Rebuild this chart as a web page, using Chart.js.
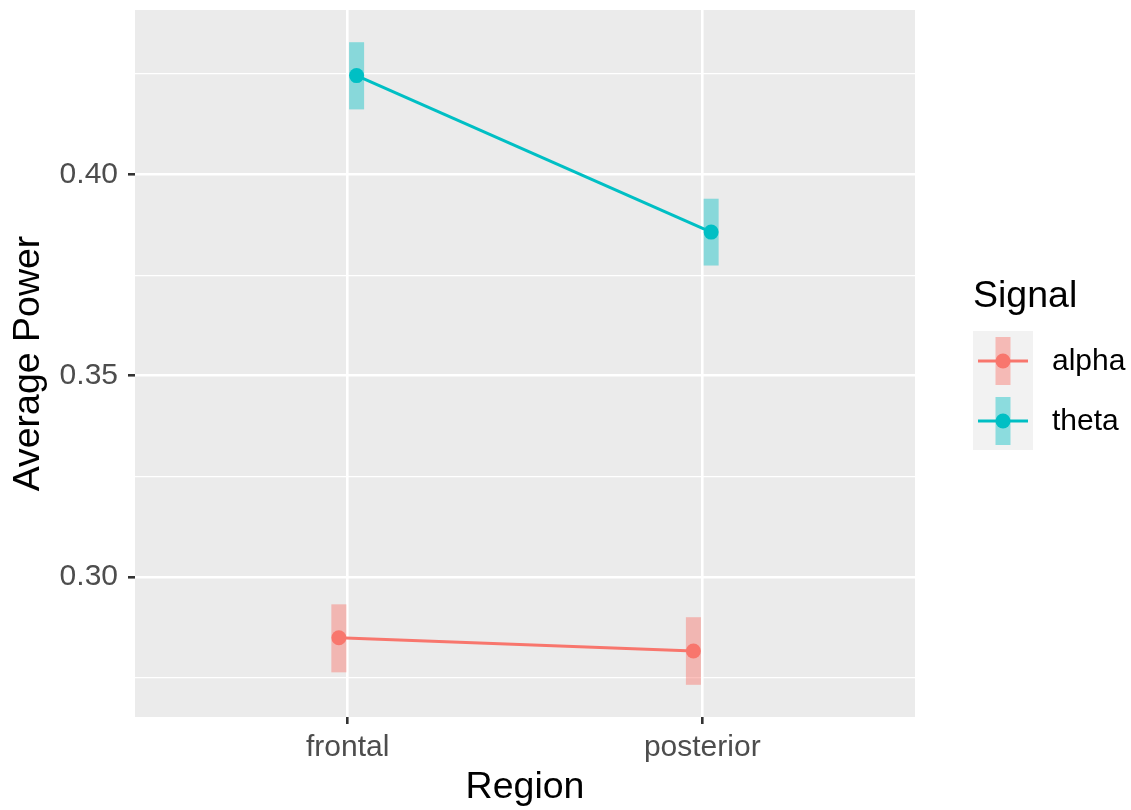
<!DOCTYPE html>
<html>
<head>
<meta charset="utf-8">
<script src="https://cdn.jsdelivr.net/npm/chart.js@4"></script>
<style>
  body { margin: 0; background: #fff; }
  canvas { display: block; }
</style>
</head>
<body>
<canvas id="grafico" width="1131" height="810"></canvas>
<script>
// dados
const regioes = ['frontal', 'posterior'];
const sinais = ['alpha', 'theta'];
const alphaMedia = [0.2849, 0.2816];
const alphaInf = [0.2763, 0.2732];
const alphaSup = [0.2932, 0.2900];
const thetaMedia = [0.4246, 0.3857];
const thetaInf = [0.4162, 0.3774];
const thetaSup = [0.4329, 0.3940];
const ticksY = [0.275, 0.30, 0.325, 0.35, 0.375, 0.40, 0.425];
const ticksYMaiores = [0.30, 0.35, 0.40];

const cores = { alpha: '#F8766D', theta: '#00BFC4' };
const coresBarra = { alpha: 'rgba(248,118,109,0.45)', theta: 'rgba(0,191,196,0.42)' };
const desvio = { alpha: -0.025, theta: 0.025 };
const fonte = '"Liberation Sans", Arial, sans-serif';

const series = {
    alpha: { media: alphaMedia, inf: alphaInf, sup: alphaSup },
    theta: { media: thetaMedia, inf: thetaInf, sup: thetaSup }
};

const ehMaior = v => ticksYMaiores.some(m => Math.abs(m - v) < 1e-6);

// fundo cinza do painel
const painel = {
    id: 'painel',
    beforeDraw(chart) {
        const { ctx, chartArea: a } = chart;
        ctx.save();
        ctx.fillStyle = '#EBEBEB';
        ctx.fillRect(a.left, a.top, a.right - a.left, a.bottom - a.top);
        ctx.restore();
    }
};

// barras de erro (retângulos translúcidos)
const barrasErro = {
    id: 'barrasErro',
    beforeDatasetsDraw(chart) {
        const { ctx, scales: { x, y } } = chart;
        ctx.save();
        sinais.forEach(s => {
            ctx.fillStyle = coresBarra[s];
            regioes.forEach((r, i) => {
                const px = x.getPixelForValue(i + 1 + desvio[s]);
                const yTopo = y.getPixelForValue(series[s].sup[i]);
                const yBase = y.getPixelForValue(series[s].inf[i]);
                ctx.fillRect(px - 7.5, yTopo, 15, yBase - yTopo);
            });
        });
        ctx.restore();
    }
};

// legenda no estilo ggplot
const legenda = {
    id: 'legenda',
    afterDraw(chart) {
        const ctx = chart.ctx;
        ctx.save();
        ctx.fillStyle = '#000';
        ctx.font = '37.5px ' + fonte;
        ctx.textBaseline = 'alphabetic';
        ctx.textAlign = 'left';
        ctx.fillText('Signal', 973, 307);

        ctx.fillStyle = '#F2F2F2';
        ctx.fillRect(973, 331, 60, 119);

        sinais.forEach((s, i) => {
            const cy = 361 + i * 60;
            ctx.fillStyle = coresBarra[s];
            ctx.fillRect(995.5, cy - 24, 15, 48);
            ctx.strokeStyle = cores[s];
            ctx.lineWidth = 3;
            ctx.beginPath();
            ctx.moveTo(978, cy);
            ctx.lineTo(1028, cy);
            ctx.stroke();
            ctx.fillStyle = cores[s];
            ctx.beginPath();
            ctx.arc(1003, cy, 7.5, 0, Math.PI * 2);
            ctx.fill();
            ctx.fillStyle = '#000';
            ctx.font = '30px ' + fonte;
            ctx.textBaseline = 'middle';
            ctx.fillText(s, 1052, cy + 1);
        });
        ctx.restore();
    }
};

new Chart(document.getElementById('grafico').getContext('2d'), {
    type: 'scatter',
    data: {
        datasets: sinais.map(s => ({
            label: s,
            data: regioes.map((r, i) => ({ x: i + 1 + desvio[s], y: series[s].media[i] })),
            showLine: true,
            borderColor: cores[s],
            backgroundColor: cores[s],
            borderWidth: 3,
            pointRadius: 7.5,
            pointHoverRadius: 7.5,
            pointBorderWidth: 0
        }))
    },
    options: {
        responsive: false,
        animation: false,
        devicePixelRatio: 1,
        layout: { padding: { left: 0, right: 216, top: 10, bottom: 0 } },
        plugins: { legend: { display: false }, tooltip: { enabled: false } },
        scales: {
            x: {
                type: 'linear',
                min: 0.4,
                max: 2.6,
                afterBuildTicks: ax => { ax.ticks = regioes.map((r, i) => ({ value: i + 1 })); },
                afterFit: ax => { ax.height = 93; ax.paddingLeft = 0; ax.paddingRight = 0; },
                ticks: {
                    callback: v => regioes[v - 1] || '',
                    color: '#4D4D4D',
                    font: { family: fonte, size: 30 },
                    padding: 6,
                    maxRotation: 0
                },
                grid: { color: '#FFFFFF', lineWidth: 2.6, tickLength: 7, tickColor: '#333333', tickWidth: 2.6 },
                border: { display: false },
                title: {
                    display: true,
                    text: 'Region',
                    color: '#000',
                    font: { family: fonte, size: 37.5 },
                    padding: { top: 0, bottom: 0 }
                }
            },
            y: {
                min: 0.2652,
                max: 0.4409,
                afterBuildTicks: ax => { ax.ticks = ticksY.map(v => ({ value: v })); },
                afterFit: ax => { ax.width = 135; ax.paddingTop = 0; ax.paddingBottom = 0; },
                ticks: {
                    callback: v => ehMaior(v) ? v.toFixed(2) : '',
                    color: '#4D4D4D',
                    font: { family: fonte, size: 30 },
                    padding: 10
                },
                grid: {
                    color: '#FFFFFF',
                    lineWidth: c => ehMaior(c.tick.value) ? 2.6 : 1.3,
                    tickLength: 7,
                    tickColor: c => ehMaior(c.tick.value) ? '#333333' : 'rgba(0,0,0,0)',
                    tickWidth: 2.6
                },
                border: { display: false },
                title: {
                    display: true,
                    text: 'Average Power',
                    color: '#000',
                    font: { family: fonte, size: 37.5 },
                    padding: { top: 6, bottom: 0 }
                }
            }
        }
    },
    plugins: [painel, barrasErro, legenda]
});
</script>
</body>
</html>
